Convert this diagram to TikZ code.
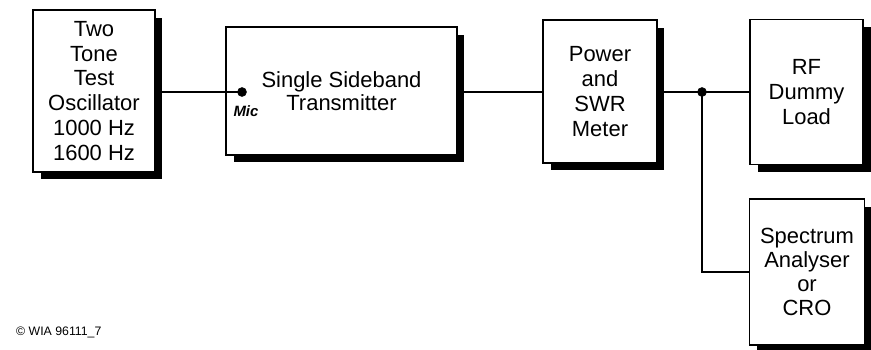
\documentclass[tikz,border=0pt]{standalone}
\usepackage{fontspec}
\setmainfont{Liberation Sans}
\usetikzlibrary{shadows}

\begin{document}
\begin{tikzpicture}[x=0.02cm, y=-0.02cm,
    block/.style={draw, thick, fill=white, align=center, inner sep=0pt,
        font=\fontsize{12.5}{14.2}\selectfont,
        drop shadow={shadow xshift=0.15cm, shadow yshift=-0.15cm, fill=black, opacity=1}},
    wire/.style={thick}]
    \useasboundingbox (0,0) rectangle (871,349);

    % Bloecke
    \node[block, minimum width=2.44cm, minimum height=3.24cm] (osc) at (94,91)
        {Two\\Tone\\Test\\Oscillator\\1000 Hz\\1600 Hz};
    \node[block, minimum width=4.62cm, minimum height=2.56cm,
        font=\fontsize{12.5}{13}\selectfont] (ssb) at (341.5,91)
        {Single Sideband\\Transmitter};
    \node[block, minimum width=2.28cm, minimum height=2.86cm] (swr) at (600,91.5)
        {Power\\and\\SWR\\Meter};
    \node[block, minimum width=2.26cm, minimum height=2.90cm] (load) at (806.5,92)
        {RF\\Dummy\\Load};
    \node[block, minimum width=2.30cm, minimum height=2.92cm,
        font=\fontsize{12.5}{13.5}\selectfont] (spec) at (807,272)
        {Spectrum\\Analyser\\or\\CRO};

    % Mikrofoneingang und Verzweigung
    \coordinate (mic) at (242,92);
    \coordinate (jn) at (702,92);
    \filldraw (mic) circle (2.5pt);
    \node[font=\fontsize{8.5}{9}\bfseries\itshape] (miclabel) at (246,111) {Mic};
    \filldraw (jn) circle (2.5pt);

    % Leitungen
    \draw[wire] (osc.east |- mic) -- (mic);
    \draw[wire] (ssb.east |- mic) -- (swr.west |- mic);
    \draw[wire] (swr.east |- jn) -- (jn) -- (load.west |- jn);
    \draw[wire] (jn) |- (spec.west);

    % Kennung
    \node[anchor=west, font=\fontsize{7}{8}\selectfont] (ref) at (10,332)
        {\textcopyright\ WIA 96111\_7};
\end{tikzpicture}
\end{document}
